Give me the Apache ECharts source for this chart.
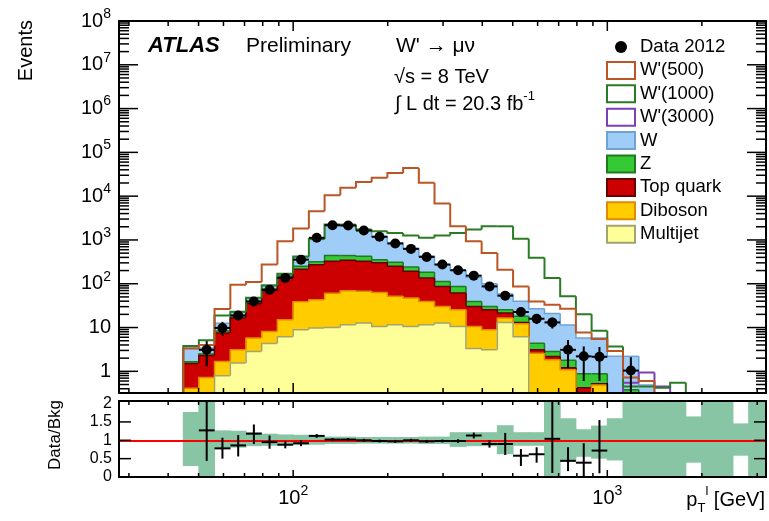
<!DOCTYPE html>
<html><head><meta charset="utf-8">
<script src="https://cdn.jsdelivr.net/npm/echarts@6/dist/echarts.min.js"></script>
<style>html,body{margin:0;padding:0;background:#fff}#c{width:769px;height:521px}</style>
</head><body><div id="c"></div>
<script>
// ---- bin edges (GeV), 20 log bins per decade ----
const binEdges = [44.7,50.1,56.2,63.1,70.8,79.4,89.1,100,112.2,125.9,141.3,158.5,177.8,199.5,223.9,251.2,281.8,316.2,354.8,398.1,446.7,501.2,562.3,631,707.9,794.3,891.3,1000,1122,1259,1413,1585,1778,1995,2239,2512,2818,3162,3548];

// ---- background components (events per bin, bins 0..29) ----
const multijet = [0.1,0.15,0.79,1.54,2.84,4.3,6.2,8.9,9.7,10, 11.6,12.7,10.6,11.6,10.6,11.6,12.7,10.6,3.3,3.1, 13,6.2,0,0,0,0,0,0,0,0];
const diboson  = [0.31,0.57,0.88,1.56,2.96,3.8,8.8,30.1,33.3,51, 57.4,54.3,52.4,40.4,36.4,27.9,17.7,14.9,7.3,5.8, 3.5,6.0,2.6,1.83,1.08,0,0.49,0,0,0];
const topquark = [1.09,1.58,5.83,13.4,29.2,61.9,125,176,227,264, 274,258,237,198,145,96.5,56.6,36,19.8,16.6, 4.9,0.8,0.5,0.35,0.12,0.42,0.03,0,0,0];
const zjets    = [0.15,0.2,0.8,1.0,2.5,5,10,35,50,115, 97,99,55,60,50,46,26,25.5,9.1,4.9, 4.1,5,1.3,0.66,0.6,0.46,0.36,0.25,0.38,0.2];
const wjets    = [1.75,0.9,4.2,4.5,8.5,13,15,150,700,1690, 1660,1256,865,550,408,248,167,120,100.5,69.6, 32.5,22,22.6,18.2,9.7,4.9,4.9,1.95,1.82,0.29];

// ---- signals ----
const wp500  = [3.3,4.0,26.5,95,110,274,935,1820,4540,10500, 15500,21000,26300,34000,44000,20300,6800,2060,930,505, 210,87,39.5,33,27,7.7,5.5,2.9,0.72,0.6, 0,0];
const wp1000 = [3.8,5.1,18.9,23,48,92,170,420,1050,2240, 2240,1730,1585,1450,1260,1120,1260,1450,1730,2050, 2050,1060,390,136,51.6,20,8.5,3.7,0.45,0.45, 0.42,0.55,0];
const wp3000 = [0,0,0,0,0,0,0,0,0,0, 0,0,0,0,0,0,0,0,0,0, 0,0,0,0,0,0,0,0.2,0.55,0.94, 0.45,0.2,0];

// ---- data 2012 (bins 0..28) ----
const dataVal = [null,3.1,9.8,18.9,39.5,73,136,355,1120,2170, 2140,1640,1180,830,625,410,274,203,153,87, 53.5,22.6,15.9,13.1,3.1,2.2,2.15,null,1.04];
const dataLo  = [null,1.3,6.5,14.5,33,64,124,336,1087,2123, 2094,1600,1146,801,600,390,258,189,141,78, 46,18,12,9.5,1.2,0.6,0.6,null,0.3];
const dataHi  = [null,4.9,13.5,23.5,46,82,148,374,1153,2217, 2186,1680,1214,859,650,430,290,217,165,96, 61,27.5,20,16.8,5.2,3.7,3.6,null,2.1];

// ---- ratio panel ----
const ratioVal = [null,1.27,0.78,0.86,1.18,0.95,0.88,0.92,1.12,1.02, 1.02,1.0,0.98,0.97,1.0,0.97,0.98,0.98,1.13,0.9, 0.9,0.58,0.62,1.04,0.44,0.39,0.72];
const ratioLo  = [null,0.44,0.5,0.56,0.9,0.77,0.78,0.84,1.07,0.98, 0.98,0.96,0.94,0.93,0.96,0.93,0.94,0.93,1.05,0.8, 0.6,0.3,0.39,0.11,0.16,0,0.1];
const ratioHi  = [null,2.3,1.07,1.14,1.43,1.13,0.98,1.0,1.17,1.06, 1.06,1.04,1.02,1.01,1.04,1.01,1.02,1.03,1.21,1.0, 1.2,0.76,0.81,2.3,0.81,0.92,1.55];
const bandLo = [0.3,0,0.76,0.8,0.84,0.85,0.86,0.87,0.88,0.9, 0.9,0.91,0.91,0.91,0.91,0.9,0.9,0.82,0.84,0.84, 0.62,0.85,0.85,0,0.45,0.55,0.5,0.45,0,0, 0,0,0.39,0,0,0.58,0,0];
const bandHi = [1.77,2.1,1.27,1.26,1.22,1.18,1.16,1.15,1.13,1.1, 1.1,1.09,1.09,1.09,1.09,1.1,1.1,1.22,1.22,1.22, 1.41,1.22,1.22,2.1,1.6,1.3,1.4,1.6,2.1,2.1, 2.1,2.1,1.65,2.1,2.1,1.46,2.1,2.1];

// ---- axis ticks ----
const xTickMajor = [100, 1000];
const xTickMinor = [30,40,50,60,70,80,90,200,300,400,500,600,700,800,900,2000,3000];
const yTickMajor = [1,10,100,1e3,1e4,1e5,1e6,1e7,1e8];
const yTickMinor = [];
[0.1,1,10,100,1e3,1e4,1e5,1e6,1e7].forEach(d => [2,3,4,5,6,7,8,9].forEach(m => { const v = m*d; if (v > 0.33 && v < 1e8) yTickMinor.push(v); }));
const rTickMajor = [0.5, 1, 1.5];

const FONT = '"Liberation Sans", Arial, Helvetica, sans-serif';
const C = {
  w: ['#9fcdf7', '#6fa3d8'], z: ['#36c936', '#1f7a1f'], top: ['#cc0000', '#660000'],
  db: ['#ffcc00', '#e08a00'], mj: ['#ffff99', '#a3a36f'],
  s500: '#bb5524', s1000: '#2b7b25', s3000: '#7b3fb8', band: '#88c5a4'
};

// cumulative stack levels
const lvlMJ = multijet.slice();
const lvlDB = lvlMJ.map((v, i) => v + diboson[i]);
const lvlTop = lvlDB.map((v, i) => v + topquark[i]);
const lvlZ = lvlTop.map((v, i) => v + zjets[i]);
const lvlW = lvlZ.map((v, i) => v + wjets[i]);

function histItems(vals) {
  const out = [];
  for (let i = 0; i < vals.length; i++) out.push([binEdges[i], binEdges[i + 1], vals[i], i > 0 ? vals[i - 1] : 0]);
  out.push([binEdges[vals.length], binEdges[vals.length], 0, vals[vals.length - 1]]);
  return out;
}
function makeHist(fill, stroke, lw) {
  return function (params, api) {
    const cs = params.coordSys;
    const top = cs.y, bot = cs.y + cs.height, L = cs.x, R = cs.x + cs.width;
    const px = v => Math.max(L, Math.min(R, api.coord([v, 1])[0]));
    const py = v => (v > 0) ? Math.max(top, Math.min(bot, api.coord([100, v])[1])) : bot;
    const x0 = px(api.value(0)), x1 = px(api.value(1));
    const h = py(api.value(2)), p = py(api.value(3));
    const ch = [];
    if (fill && h < bot && x1 > x0) ch.push({ type: 'rect', shape: { x: x0 - 0.5, y: h, width: x1 - x0 + 1, height: bot - h }, style: { fill: fill } });
    const hasV = Math.abs(p - h) > 0.01;
    const hasH = h < bot && x1 > x0;
    let pts = null;
    if (hasV && hasH) pts = [[x0, p], [x0, h], [x1, h]];
    else if (hasV) pts = [[x0, p], [x0, h]];
    else if (hasH) pts = [[x0, h], [x1, h]];
    if (pts) ch.push({ type: 'polyline', shape: { points: pts }, style: { stroke: stroke, lineWidth: lw, fill: 'none' } });
    return { type: 'group', children: ch };
  };
}
function errItems(vals, lo, hi) {
  const out = [];
  vals.forEach((v, i) => { if (v !== null) out.push([binEdges[i], binEdges[i + 1], v, lo[i], hi[i]]); });
  return out;
}
function makeErr(isLog) {
  return function (params, api) {
    const cs = params.coordSys;
    const top = cs.y, bot = cs.y + cs.height;
    const py = v => (!isLog || v > 0) ? Math.max(top, Math.min(bot, api.coord([100, v])[1])) : bot;
    const x0 = api.coord([api.value(0), 1])[0], x1 = api.coord([api.value(1), 1])[0];
    const xc = (x0 + x1) / 2;
    const y = py(api.value(2)), ylo = py(api.value(3)), yhi = py(api.value(4));
    const st = { stroke: '#000', lineWidth: 2 };
    return { type: 'group', children: [
      { type: 'line', shape: { x1: x0, y1: y, x2: x1, y2: y }, style: st },
      { type: 'line', shape: { x1: xc, y1: ylo, x2: xc, y2: yhi }, style: st }
    ] };
  };
}
function tickItems(xMaj, xMin, yMaj, yMin) {
  const out = [[100, 1, 0, 2]];
  xMaj.forEach(v => out.push([v, 1, 1, 0]));
  xMin.forEach(v => out.push([v, 1, 0, 0]));
  yMaj.forEach(v => out.push([100, v, 1, 1]));
  yMin.forEach(v => out.push([100, v, 0, 1]));
  return out;
}
function makeTicks(xMajL, xMinL, yMajL, yMinL) {
  return function (params, api) {
    const cs = params.coordSys;
    const top = cs.y, bot = cs.y + cs.height, L = cs.x, R = cs.x + cs.width;
    const o = api.value(3), k = api.value(2);
    const st = { stroke: '#000', lineWidth: 1.5 };
    if (o === 2) return { type: 'rect', shape: { x: L, y: top, width: cs.width, height: cs.height }, style: { fill: 'none', stroke: '#000', lineWidth: 2 } };
    const c = api.coord([api.value(0), api.value(1)]);
    if (o === 0) {
      const len = k ? xMajL : xMinL;
      return { type: 'group', children: [
        { type: 'line', shape: { x1: c[0], y1: bot, x2: c[0], y2: bot - len }, style: st },
        { type: 'line', shape: { x1: c[0], y1: top, x2: c[0], y2: top + len }, style: st }] };
    }
    const len = k ? yMajL : yMinL;
    return { type: 'group', children: [
      { type: 'line', shape: { x1: L, y1: c[1], x2: L + len, y2: c[1] }, style: st },
      { type: 'line', shape: { x1: R, y1: c[1], x2: R - len, y2: c[1] }, style: st }] };
  };
}
function bandItems() {
  return bandLo.map((lo, i) => [binEdges[i], binEdges[i + 1], lo, bandHi[i]]);
}
function renderBand(params, api) {
  const cs = params.coordSys;
  const top = cs.y, bot = cs.y + cs.height, L = cs.x, R = cs.x + cs.width;
  const x0 = Math.max(L, api.coord([api.value(0), 1])[0] - 0.5), x1 = Math.min(R, api.coord([api.value(1), 1])[0] + 0.5);
  const yh = Math.max(top, api.coord([100, api.value(3)])[1]), yl = Math.min(bot, api.coord([100, api.value(2)])[1]);
  return { type: 'rect', shape: { x: x0, y: yh, width: Math.max(0, x1 - x0), height: Math.max(0, yl - yh) }, style: { fill: C.band } };
}
function logLabel(v) {
  const l = Math.log10(v), e = Math.round(l);
  if (Math.abs(l - e) > 1e-6) return '';
  if (e === 0) return '1';
  if (e === 1) return '10';
  return '10{s|' + e + '}';
}
const supRich = { s: { fontSize: 14, fontFamily: FONT, color: '#000', verticalAlign: 'top' } };

const base = (name, grid) => ({ name: name, xAxisIndex: grid, yAxisIndex: grid, silent: true });
const mainScatter = [];
dataVal.forEach((v, i) => { if (v !== null) mainScatter.push([Math.sqrt(binEdges[i] * binEdges[i + 1]), v]); });

const option = {
  animation: false,
  textStyle: { fontFamily: FONT },
  grid: [
    { left: 119, top: 21, width: 647, height: 372, show: false },
    { left: 119, top: 401, width: 647, height: 76, show: false }
  ],
  xAxis: [
    { type: 'log', gridIndex: 0, min: 27.9, max: 3200, axisLine: { show: false }, axisTick: { show: false }, splitLine: { show: false }, axisLabel: { show: false } },
    { type: 'log', gridIndex: 1, min: 27.9, max: 3200, axisLine: { show: false }, axisTick: { show: false }, splitLine: { show: false },
      axisLabel: { formatter: logLabel, fontSize: 20, color: '#000', lineHeight: 28, margin: 7, rich: supRich, showMinLabel: true, showMaxLabel: true } }
  ],
  yAxis: [
    { type: 'log', gridIndex: 0, min: 0.32, max: 1e8, axisLine: { show: false }, axisTick: { show: false }, splitLine: { show: false },
      axisLabel: { formatter: logLabel, fontSize: 20, color: '#000', lineHeight: 28, margin: 8, rich: supRich } },
    { type: 'value', gridIndex: 1, min: 0, max: 2.07, interval: 0.5, axisLine: { show: false }, axisTick: { show: false }, splitLine: { show: false },
      axisLabel: { fontSize: 16, color: '#000', margin: 7, formatter: v => (Math.abs(v * 2 - Math.round(v * 2)) < 1e-6 ? String(+v.toFixed(1)) : '') } }
  ],
  legend: {
    orient: 'vertical', left: 606, top: 37.5, padding: 0, itemWidth: 28, itemHeight: 17, itemGap: 4.4, selectedMode: false,
    textStyle: { fontSize: 18.5, fontFamily: FONT, color: '#000', lineHeight: 17 },
    data: [
      { name: 'Data 2012', icon: 'path://M0,0M28,17M20,8.5A6,6,0,1,1,8,8.5A6,6,0,1,1,20,8.5Z', itemStyle: { color: '#000', borderWidth: 0, opacity: 1 } },
      { name: "W'(500)", icon: 'rect', itemStyle: { color: '#fff', borderColor: C.s500, borderWidth: 2 } },
      { name: "W'(1000)", icon: 'rect', itemStyle: { color: '#fff', borderColor: C.s1000, borderWidth: 2 } },
      { name: "W'(3000)", icon: 'rect', itemStyle: { color: '#fff', borderColor: C.s3000, borderWidth: 2 } },
      { name: 'W', icon: 'rect', itemStyle: { color: C.w[0], borderColor: C.w[1], borderWidth: 2 } },
      { name: 'Z', icon: 'rect', itemStyle: { color: C.z[0], borderColor: C.z[1], borderWidth: 2 } },
      { name: 'Top quark', icon: 'rect', itemStyle: { color: C.top[0], borderColor: C.top[1], borderWidth: 2 } },
      { name: 'Diboson', icon: 'rect', itemStyle: { color: C.db[0], borderColor: C.db[1], borderWidth: 2 } },
      { name: 'Multijet', icon: 'rect', itemStyle: { color: C.mj[0], borderColor: C.mj[1], borderWidth: 2 } }
    ]
  },
  graphic: [
    { type: 'text', x: 148, y: 46, style: { text: 'ATLAS', fontSize: 22, fontWeight: 'bold', fontStyle: 'italic', fontFamily: FONT, fill: '#000', align: 'left', verticalAlign: 'middle' } },
    { type: 'text', x: 246, y: 46, style: { text: 'Preliminary', fontSize: 21, fontFamily: FONT, fill: '#000', align: 'left', verticalAlign: 'middle' } },
    { type: 'text', x: 396, y: 46, style: { text: "W' \u2192 \u03bc\u03bd", fontSize: 21, fontFamily: FONT, fill: '#000', align: 'left', verticalAlign: 'middle' } },
    { type: 'text', x: 394, y: 77, style: { text: '\u221as = 8 TeV', fontSize: 20, fontFamily: FONT, fill: '#000', align: 'left', verticalAlign: 'middle' } },
    { type: 'text', x: 395, y: 104, style: { text: '\u222b L dt = 20.3 fb{s|-1}', fontSize: 20, fontFamily: FONT, fill: '#000', align: 'left', verticalAlign: 'middle', lineHeight: 28,
      rich: { s: { fontSize: 13, fontFamily: FONT, fill: '#000', verticalAlign: 'top' } } } },
    { type: 'text', x: 26, y: 20, rotation: Math.PI / 2, style: { text: 'Events', fontSize: 20, fontFamily: FONT, fill: '#000', align: 'right', verticalAlign: 'middle' } },
    { type: 'text', x: 55, y: 400, rotation: Math.PI / 2, style: { text: 'Data/Bkg', fontSize: 17, fontFamily: FONT, fill: '#000', align: 'right', verticalAlign: 'middle' } },
    { type: 'text', x: 765, y: 500, style: { text: 'p{b|T}{s|l} [GeV]', fontSize: 20, fontFamily: FONT, fill: '#000', align: 'right', verticalAlign: 'middle', lineHeight: 30,
      rich: { b: { fontSize: 13, fontFamily: FONT, fill: '#000', verticalAlign: 'bottom' }, s: { fontSize: 13, fontFamily: FONT, fill: '#000', verticalAlign: 'top' } } } }
  ],
  series: [
    Object.assign(base('W', 0), { type: 'custom', data: histItems(lvlW), renderItem: makeHist(C.w[0], C.w[1], 1.5), encode: { x: 0, y: 2 }, itemStyle: { color: C.w[0] } }),
    Object.assign(base('Z', 0), { type: 'custom', data: histItems(lvlZ), renderItem: makeHist(C.z[0], C.z[1], 1.5), encode: { x: 0, y: 2 }, itemStyle: { color: C.z[0] } }),
    Object.assign(base('Top quark', 0), { type: 'custom', data: histItems(lvlTop), renderItem: makeHist(C.top[0], C.top[1], 1.5), encode: { x: 0, y: 2 }, itemStyle: { color: C.top[0] } }),
    Object.assign(base('Diboson', 0), { type: 'custom', data: histItems(lvlDB), renderItem: makeHist(C.db[0], C.db[1], 1.5), encode: { x: 0, y: 2 }, itemStyle: { color: C.db[0] } }),
    Object.assign(base('Multijet', 0), { type: 'custom', data: histItems(lvlMJ), renderItem: makeHist(C.mj[0], C.mj[1], 1.5), encode: { x: 0, y: 2 }, itemStyle: { color: C.mj[0] } }),
    Object.assign(base("W'(3000)", 0), { type: 'custom', data: histItems(wp3000), renderItem: makeHist(null, C.s3000, 2), encode: { x: 0, y: 2 }, itemStyle: { color: C.s3000 } }),
    Object.assign(base("W'(1000)", 0), { type: 'custom', data: histItems(wp1000), renderItem: makeHist(null, C.s1000, 2), encode: { x: 0, y: 2 }, itemStyle: { color: C.s1000 } }),
    Object.assign(base("W'(500)", 0), { type: 'custom', data: histItems(wp500), renderItem: makeHist(null, C.s500, 2), encode: { x: 0, y: 2 }, itemStyle: { color: C.s500 } }),
    Object.assign(base('data-err', 0), { type: 'custom', data: errItems(dataVal, dataLo, dataHi), renderItem: makeErr(true), encode: { x: 0, y: 2 } }),
    Object.assign(base('Data 2012', 0), { type: 'scatter', data: mainScatter, symbol: 'circle', symbolSize: 10, itemStyle: { color: '#000', opacity: 1 } }),
    Object.assign(base('main-axes', 0), { type: 'custom', data: tickItems(xTickMajor, xTickMinor, yTickMajor, yTickMinor), renderItem: makeTicks(10, 5, 19, 10), encode: { x: 0, y: 1 }, z: 10 }),
    Object.assign(base('ratio-band', 1), { type: 'custom', data: bandItems(), renderItem: renderBand, encode: { x: 0, y: 2 },
      markLine: { silent: true, symbol: 'none', label: { show: false }, lineStyle: { color: '#ff0000', width: 2, type: 'solid' }, data: [{ yAxis: 1 }] } }),
    Object.assign(base('ratio', 1), { type: 'custom', data: errItems(ratioVal, ratioLo, ratioHi), renderItem: makeErr(false), encode: { x: 0, y: 2 }, z: 5 }),
    Object.assign(base('ratio-axes', 1), { type: 'custom', data: tickItems(xTickMajor, xTickMinor, rTickMajor, []), renderItem: makeTicks(7, 4, 12, 6), encode: { x: 0, y: 1 }, z: 10 })
  ]
};
const chart = echarts.init(document.getElementById('c'), null, { renderer: 'canvas' });
chart.setOption(option);
</script>
</body></html>
